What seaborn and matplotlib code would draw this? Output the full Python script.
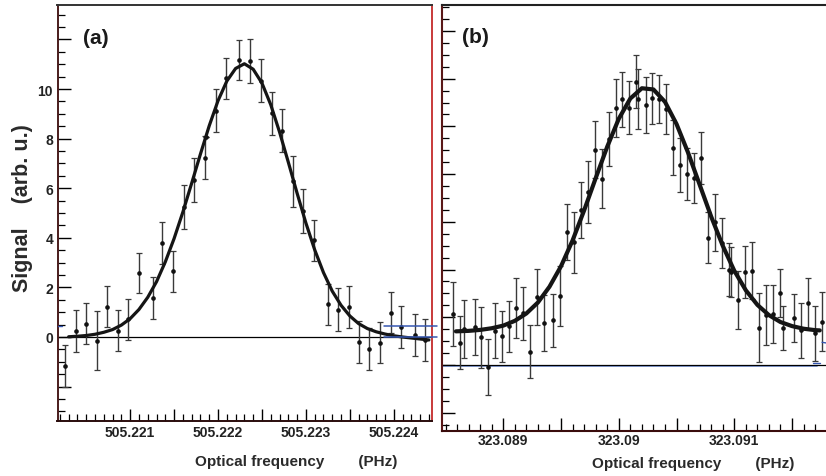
import matplotlib
matplotlib.use("Agg")
import matplotlib.pyplot as plt
from matplotlib.ticker import MultipleLocator
import seaborn as sns

# ---------------- data ----------------
# panel (a)
a_freq = [505.220258, 505.220380, 505.220497, 505.220618, 505.220732, 505.220864,
          505.220977, 505.221095, 505.221255, 505.221368, 505.221485, 505.221610,
          505.221727, 505.221849, 505.221860, 505.221974, 505.222095, 505.222243,
          505.222368, 505.222485, 505.222614, 505.222732, 505.222849, 505.222966,
          505.223091, 505.223247, 505.223368, 505.223489, 505.223599, 505.223724,
          505.223849, 505.223966, 505.224088, 505.224239, 505.224360]
a_signal = [-1.17, 0.24, 0.54, -0.15, 1.22, 0.26, 0.71, 2.57, 1.57, 3.78, 2.65, 5.24,
            6.33, 7.23, 8.05, 9.13, 10.43, 11.17, 11.13, 10.34, 9.02, 8.32, 6.28, 5.09,
            3.90, 1.32, 1.10, 1.21, -0.19, -0.48, -0.23, 0.98, 0.40, 0.07, -0.12]
a_err = [0.84, 0.84, 0.83, 1.18, 0.82, 0.83, 0.83, 0.80, 0.83, 0.84, 0.82, 0.88,
         0.89, 0.87, 0.0, 0.87, 0.84, 0.82, 0.87, 0.88, 0.86, 0.86, 1.02, 0.89,
         0.83, 0.82, 0.87, 0.86, 0.85, 0.85, 0.82, 0.82, 0.86, 0.85, 0.83]
a_fit_freq = [505.2203, 505.2204, 505.2205, 505.2206, 505.2207, 505.2208, 505.2209,
              505.2210, 505.2211, 505.2212, 505.2213, 505.2214, 505.2215, 505.2216,
              505.2217, 505.2218, 505.2219, 505.2220, 505.2221, 505.2222, 505.2223,
              505.2224, 505.2225, 505.2226, 505.2227, 505.2228, 505.2229, 505.2230,
              505.2231, 505.2232, 505.2233, 505.2234, 505.2235, 505.2236, 505.2237,
              505.2238, 505.2239, 505.2240, 505.2241, 505.2242, 505.2243, 505.2244]
a_fit_signal = [0.01, 0.03, 0.06, 0.11, 0.19, 0.30, 0.48, 0.74, 1.11, 1.60, 2.23,
                3.03, 3.97, 5.04, 6.20, 7.38, 8.52, 9.53, 10.32, 10.83, 11.02,
                10.80, 10.24, 9.37, 8.27, 7.05, 5.80, 4.60, 3.52, 2.60, 1.85,
                1.28, 0.85, 0.54, 0.34, 0.21, 0.12, 0.05, 0.00, -0.04, -0.08, -0.12]
a_xticks = [505.221, 505.222, 505.223, 505.224]
a_xtick_labels = ["505.221", "505.222", "505.223", "505.224"]
a_yticks = [0, 2, 4, 6, 8, 10]
a_ytick_labels = ["0", "2", "4", "6", "8", "10"]

# panel (b)
b_freq = [323.088567, 323.088628, 323.088660, 323.088752, 323.088810, 323.088870,
          323.088931, 323.088991, 323.089052, 323.089110, 323.089171, 323.089229,
          323.089289, 323.089350, 323.089433, 323.089494, 323.089549, 323.089615,
          323.089673, 323.089736, 323.089794, 323.089852, 323.089913, 323.089973,
          323.090030, 323.090091, 323.090152, 323.090169, 323.090233, 323.090290,
          323.090351, 323.090409, 323.090472, 323.090532, 323.090590, 323.090654,
          323.090714, 323.090775, 323.090833, 323.090891, 323.090957, 323.090971,
          323.091035, 323.091093, 323.091153, 323.091214, 323.091274, 323.091332,
          323.091396, 323.091424, 323.091517, 323.091575, 323.091635, 323.091696,
          323.091762]
b_signal = [2.13, 0.94, 1.51, 1.59, 1.16, -0.10, 1.44, 1.20, 1.62, 2.38, 2.17, 0.56,
            2.84, 1.76, 1.87, 2.89, 5.59, 5.14, 6.51, 7.24, 9.03, 7.80, 9.48, 10.78,
            11.14, 10.79, 11.88, 11.15, 10.90, 11.18, 11.15, 10.73, 9.11, 8.39, 8.01,
            7.85, 8.68, 5.34, 5.98, 5.10, 4.00, 3.90, 2.72, 3.89, 3.95, 1.57, 2.10,
            2.14, 3.01, 1.54, 1.96, 1.45, 2.58, 1.32, 1.81]
b_err = [1.35, 1.12, 1.22, 1.19, 1.27, 1.17, 1.14, 1.08, 1.08, 1.25, 1.11, 1.10,
         1.17, 1.19, 1.10, 1.26, 1.17, 1.27, 1.17, 1.29, 1.19, 1.24, 1.13, 1.22,
         1.15, 1.12, 1.12, 1.27, 1.17, 1.08, 1.02, 1.05, 1.14, 1.13, 1.08, 1.05,
         1.08, 1.08, 1.19, 1.05, 1.10, 1.05, 1.22, 1.10, 1.20, 1.45, 1.26, 1.20,
         1.00, 0.93, 1.01, 1.15, 1.08, 1.17, 1.24]
b_fit_freq = [323.08859, 323.0887, 323.0888, 323.0889, 323.0890, 323.0891, 323.0892,
              323.0893, 323.0894, 323.0895, 323.0896, 323.0897, 323.0898, 323.0899,
              323.0900, 323.0901, 323.0902, 323.0903, 323.0904, 323.0905, 323.0906,
              323.0907, 323.0908, 323.0909, 323.0910, 323.0911, 323.0912, 323.0913,
              323.0914, 323.0915, 323.0916, 323.0917, 323.09174]
b_fit_signal = [1.41, 1.43, 1.47, 1.54, 1.65, 1.85, 2.16, 2.62, 3.28, 4.14, 5.22,
                6.48, 7.83, 9.15, 10.32, 11.17, 11.60, 11.55, 11.03, 10.10, 8.90,
                7.56, 6.22, 5.00, 3.95, 3.13, 2.52, 2.09, 1.80, 1.63, 1.52, 1.46, 1.45]
b_xticks = [323.089, 323.090, 323.091]
b_xtick_labels = ["323.089", "323.09", "323.091"]

x_label = "Optical frequency        (PHz)"
y_label = "Signal    (arb. u.)"

# ---------------- style ----------------
sns.set_style("ticks")
plt.rcParams["font.family"] = ["Liberation Sans", "DejaVu Sans"]
plt.rcParams["font.weight"] = "bold"
plt.rcParams["axes.labelweight"] = "bold"

W, H = 826, 477
fig = plt.figure(figsize=(W / 100, H / 100), dpi=100)
fig.patch.set_facecolor("white")


def axes_px(l, t, r, b):
    return fig.add_axes([l / W, 1 - b / H, (r - l) / W, (b - t) / H])


axa = axes_px(57.5, 6, 431.7, 422.3)
axb = axes_px(441.7, 6, 826, 431.7)

DOT = "#111111"
BAR = "#3a3a3a"
BLUE = "#3556b0"

# ---------- panel (a) ----------
axa.axhline(0, color="black", lw=0.9, zorder=1)
axa.errorbar(a_freq, a_signal, yerr=a_err, fmt="none", ecolor=BAR,
             elinewidth=1.0, capsize=2.0, capthick=0.9, zorder=2)
sns.scatterplot(x=a_freq, y=a_signal, ax=axa, color=DOT, s=11, linewidth=0,
                zorder=3, legend=False)
sns.lineplot(x=a_fit_freq, y=a_fit_signal, ax=axa, color="#151515",
             linewidth=2.3, estimator=None, zorder=4, legend=False)
axa.plot([505.223894, 505.224490], [0.43, 0.43], color=BLUE, lw=1.1,
         clip_on=False, zorder=5)
axa.plot([505.223894, 505.224490], [0.0, 0.0], color=BLUE, lw=1.1,
         clip_on=False, zorder=5)
axa.plot([505.22017, 505.22022], [0.44, 0.44], color=BLUE, lw=1.0, zorder=5)

axa.set_xlim(505.220173, 505.224432)
axa.set_ylim(-3.40, 13.39)
half_a = [p + 0.0005 for p in a_xticks[:-1]]
axa.set_xticks(a_xticks + half_a,
               labels=a_xtick_labels + [""] * len(half_a))
axa.xaxis.set_minor_locator(MultipleLocator(0.0001))
axa.set_yticks([-2] + a_yticks + [12], labels=[""] + a_ytick_labels + [""])
axa.yaxis.set_minor_locator(MultipleLocator(0.5))
axa.tick_params(axis="x", which="major", direction="in", length=8.5, width=1.0,
                labelsize=10, pad=3.0, colors="black")
axa.tick_params(axis="y", which="major", direction="in", length=9.5, width=1.0,
                labelsize=10, pad=3.2, colors="black")
axa.tick_params(axis="both", which="minor", direction="in", length=5, width=0.9,
                colors="black")
for lab in axa.get_xticklabels() + axa.get_yticklabels():
    lab.set_fontweight("bold")
    lab.set_color("#222222")

axa.set_xlabel(x_label, fontsize=11, fontweight="bold", color="#2a2a2a")
axa.xaxis.label.set_va("center")
axa.xaxis.set_label_coords((296 - 57.5) / 374.2, (422.3 - 461.7) / 416.3)
axa.set_ylabel(y_label, fontsize=15.5, fontweight="bold", color="#2a2a2a")
axa.yaxis.label.set_va("center")
axa.yaxis.set_label_coords((22.5 - 57.5) / 374.2, (422.3 - 208.5) / 416.3)

axa.text(0.068, 0.923, "(a)", transform=axa.transAxes, fontsize=15,
         fontweight="bold", ha="left", va="center", color="#1a1a1a")

axa.spines["left"].set_color("#4a1c1c")
axa.spines["top"].set_color("#333333")
axa.spines["right"].set_color("#c83a3a")
axa.spines["bottom"].set_color("#2a0c0c")
for s in axa.spines.values():
    s.set_linewidth(1.4)

# ---------- panel (b) ----------
axb.plot([323.088467, 323.091720], [-0.05, -0.05], color="#7f9ad8", lw=1.3,
         zorder=1)
axb.axhline(0, color="black", lw=0.9, zorder=1)
axb.errorbar(b_freq, b_signal, yerr=b_err, fmt="none", ecolor=BAR,
             elinewidth=1.0, capsize=2.0, capthick=0.9, zorder=2)
sns.scatterplot(x=b_freq, y=b_signal, ax=axb, color=DOT, s=11, linewidth=0,
                zorder=3, legend=False)
sns.lineplot(x=b_fit_freq, y=b_fit_signal, ax=axb, color="#151515",
             linewidth=3.0, estimator=None, zorder=4, legend=False)
axb.plot([323.09176, 323.0918], [0.95, 0.92], color=BLUE, lw=1.0, zorder=5)
axb.plot([323.09168, 323.09174], [0.08, 0.08], color=BLUE, lw=1.0, zorder=5)

axb.set_xlim(323.088467, 323.091794)
axb.set_ylim(-2.755, 15.09)
half_b = [p + 0.0005 for p in b_xticks]
axb.set_xticks(b_xticks + half_b, labels=b_xtick_labels + [""] * len(half_b))
axb.xaxis.set_minor_locator(MultipleLocator(0.0001))
axb.yaxis.set_major_locator(MultipleLocator(2))
axb.yaxis.set_minor_locator(MultipleLocator(0.5))
axb.tick_params(axis="y", which="major", labelleft=False)
axb.tick_params(axis="x", which="major", direction="in", length=9.5, width=1.0,
                labelsize=10, pad=2.0, colors="black")
axb.tick_params(axis="y", which="major", direction="in", length=9.5, width=1.0,
                colors="black")
axb.tick_params(axis="both", which="minor", direction="in", length=5, width=0.9,
                colors="black")
for lab in axb.get_xticklabels():
    lab.set_fontweight("bold")
    lab.set_color("#222222")

axb.set_xlabel(x_label, fontsize=11, fontweight="bold", color="#2a2a2a")
axb.xaxis.label.set_va("center")
axb.xaxis.set_label_coords((693 - 441.7) / 384.3, (431.7 - 464) / 425.7)
axb.set_ylabel("")

axb.text(0.052, 0.925, "(b)", transform=axb.transAxes, fontsize=15,
         fontweight="bold", ha="left", va="center", color="#1a1a1a")

axb.spines["right"].set_visible(False)
axb.spines["left"].set_color("#5a1818")
axb.spines["top"].set_color("#222222")
axb.spines["bottom"].set_color("#3a0c0c")
for s in axb.spines.values():
    s.set_linewidth(1.5)

fig.savefig("out.png", dpi=100, facecolor="white")
